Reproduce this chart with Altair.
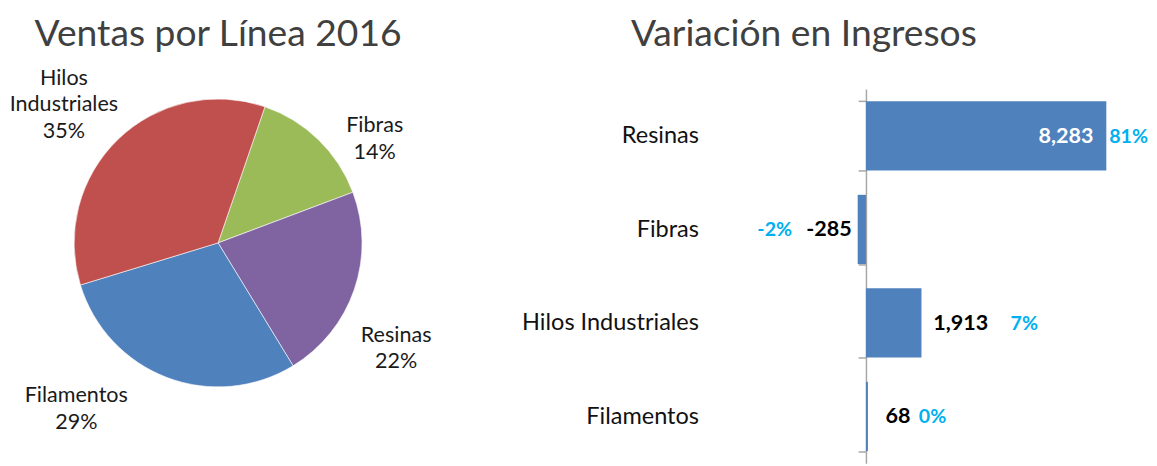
import math
import altair as alt
import pandas as pd

# ---------------- data ----------------
pie_cats = ["Fibras", "Resinas", "Filamentos", "Hilos Industriales"]
pie_share = [14, 22, 29, 35]
pie_labels = ["Fibras\n14%", "Resinas\n22%", "Filamentos\n29%", "Hilos\nIndustriales\n35%"]

bar_cats = ["Resinas", "Fibras", "Hilos Industriales", "Filamentos"]
bar_values = [8283, -285, 1913, 68]
bar_pct = ["81%", "-2%", "7%", "0%"]

# ---------------- style ----------------
FONT = "Lato"
pie_colors = ["#9BBB59", "#8064A2", "#4F81BD", "#C0504D"]
BAR_COLOR = "#4F81BD"
PCT_COLOR = "#00B0F0"
TITLE_COLOR = "#404040"
START_ANGLE = 0.3316  # first slice starts ~19 deg clockwise from 12 o'clock

# label nudges (dx, dy) relative to slice-middle position (first line anchored)
pie_nudge = {
    "Fibras": (17, 27),
    "Resinas": (-12, 27),
    "Filamentos": (-72, -36),
    "Hilos Industriales": (-15, -21),
}
# value label style: (align, dx, color)
val_style = {
    "Resinas": ("right", -13, "white"),
    "Fibras": ("right", -6, "black"),
    "Hilos Industriales": ("left", 12, "black"),
    "Filamentos": ("left", 18, "black"),
}
# pct label style: (align, dx)
pct_style = {
    "Resinas": ("left", 3),
    "Fibras": ("right", -67),
    "Hilos Industriales": ("left", 91),
    "Filamentos": ("left", 52),
}

pie_df = pd.DataFrame({"cat": pie_cats, "share": pie_share,
                       "label": pie_labels, "ord": list(range(len(pie_cats)))})
bar_df = pd.DataFrame({"cat": bar_cats, "value": bar_values, "pct": bar_pct})

# ---------------- pie ----------------
ang_scale = alt.Scale(domain=[0, sum(pie_share)],
                      range=[START_ANGLE, START_ANGLE + 2 * math.pi])
pie_base = alt.Chart(pie_df)

arcs = pie_base.mark_arc(outerRadius=147, stroke="white", strokeWidth=0.6).encode(
    theta=alt.Theta("share:Q", stack=True, scale=ang_scale),
    order=alt.Order("ord:Q"),
    color=alt.Color("cat:N", scale=alt.Scale(domain=pie_cats, range=pie_colors), legend=None),
)

pie_layers = [arcs]
for cat, (dx, dy) in pie_nudge.items():
    pie_layers.append(
        pie_base.transform_window(cum="sum(share)", sort=[alt.SortField("ord")])
        .transform_calculate(mid="datum.cum - datum.share / 2")
        .transform_filter(alt.datum.cat == cat)
        .mark_text(radius=205, dx=dx, dy=dy, align="center", baseline="middle",
                   font=FONT, fontSize=22, lineHeight=27, lineBreak="\n", color="#1a1a1a")
        .encode(theta=alt.Theta("mid:Q", stack=None, scale=ang_scale), text="label:N")
    )

pie = alt.layer(*pie_layers).properties(
    width=429, height=314,
    title=alt.Title("Ventas por Línea 2016", font=FONT, fontSize=38, fontWeight="normal",
                    color=TITLE_COLOR, anchor="middle", frame="group", offset=14),
)

# ---------------- bars ----------------
y_enc = alt.Y("cat:N", sort=bar_cats, title=None,
              scale=alt.Scale(paddingInner=0.26, paddingOuter=0.13),
              axis=alt.Axis(orient="left", domain=True, domainColor="#a6a6a6", domainWidth=1.5,
                            ticks=True, tickBand="extent", tickSize=8, tickColor="#a6a6a6",
                            tickWidth=1.5, labelPadding=163, labelFont=FONT, labelFontSize=24,
                            labelColor="#111111", labelLimit=400, grid=False))
x_enc = alt.X("value:Q", scale=alt.Scale(domain=[0, 9450], nice=False, zero=True), axis=None)

bar_base = alt.Chart(bar_df).encode(y=y_enc, x=x_enc)
bars = bar_base.mark_bar(color=BAR_COLOR)

bar_layers = [bars]
for cat, (align, dx, col) in val_style.items():
    bar_layers.append(
        bar_base.transform_calculate(lbl="replace(format(datum.value, ','), '\u2212', '-')")
        .transform_filter(alt.datum.cat == cat)
        .mark_text(align=align, dx=dx, baseline="middle", font=FONT, fontSize=22,
                   fontWeight="bold", color=col)
        .encode(text="lbl:N")
    )
for cat, (align, dx) in pct_style.items():
    bar_layers.append(
        bar_base.transform_filter(alt.datum.cat == cat)
        .mark_text(align=align, dx=dx, dy=1, baseline="middle", font=FONT, fontSize=20,
                   fontWeight="bold", color=PCT_COLOR)
        .encode(text="pct:N")
    )

barchart = alt.layer(*bar_layers).properties(
    width=280, height=382,
    title=alt.Title("Variación en Ingresos", font=FONT, fontSize=38, fontWeight="normal",
                    color=TITLE_COLOR, anchor="start", frame="group", dx=-240, offset=24),
)

chart = (
    alt.hconcat(pie, barchart, spacing=447, bounds="flush")
    .properties(padding={"top": 3, "left": 0, "right": 0, "bottom": 0})
    .configure_view(stroke=None)
)

chart.save("out.html", embed_options={"renderer": "svg", "actions": False})
